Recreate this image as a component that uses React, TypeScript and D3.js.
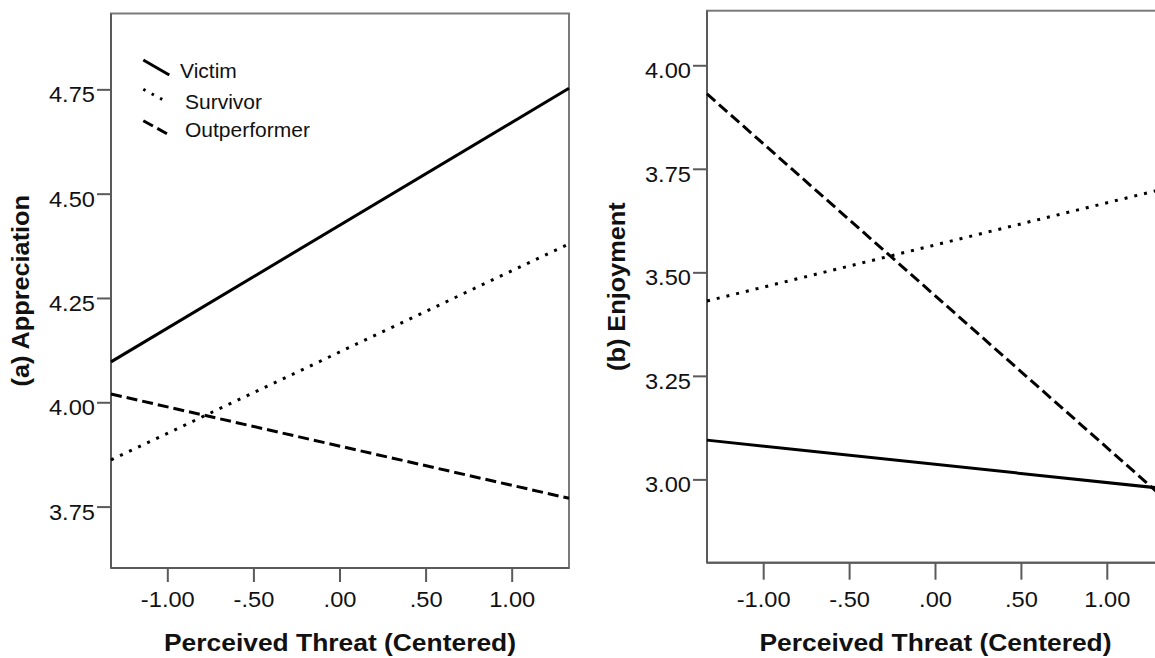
import React from "react";
import * as d3 from "d3";

// ---- data ----
const xDomain: [number, number] = [-1.33, 1.33];
const xTicks = [-1, -0.5, 0, 0.5, 1];
const seriesNames = ["Victim", "Survivor", "Outperformer"];

// values at the two ends of the x range (-1.33, 1.33)
const appreciationVictim = [4.098, 4.754];
const appreciationSurvivor = [3.863, 4.381];
const appreciationOutperformer = [4.021, 3.771];

const enjoymentVictim = [3.096, 2.979];
const enjoymentSurvivor = [3.432, 3.703];
const enjoymentOutperformer = [3.932, 2.956];

const appreciationTicks = [3.75, 4.0, 4.25, 4.5, 4.75];
const enjoymentTicks = [3.0, 3.25, 3.5, 3.75, 4.0];

const xTitle = "Perceived Threat (Centered)";

const FONT = "'Liberation Sans', Arial, Helvetica, sans-serif";
const SX = 1.1;

const fmtTick = (v: number) => {
  const s = d3.format(".2f")(v).replace("\u2212", "-");
  return s.replace(/^(-?)0\./, "$1.");
};

const dashStyles = ["none", "3,7", "11,5"];
const widths = [3, 3, 3];

function T({ x, y, rot = 0, sx = SX, anchor = "middle", size, weight = "normal", children }: any) {
  return (
    <text
      transform={`translate(${x},${y}) rotate(${rot}) scale(${sx},1)`}
      textAnchor={anchor}
      fontFamily={FONT}
      fontSize={size}
      fontWeight={weight}
      fill="#111"
    >
      {children}
    </text>
  );
}

function Panel({ cfg }: any) {
  const x = d3.scaleLinear().domain(xDomain).range([cfg.x0, cfg.x1]);
  const y = d3.scaleLinear().domain(cfg.yDomain).range([cfg.y1, cfg.y0]);
  const line = d3
    .line<number>()
    .x((_, i) => x(xDomain[i]))
    .y((d) => y(d));
  const axisColor = "#5a5a5a";
  return (
    <g>
      {/* frame */}
      <rect
        x={cfg.x0}
        y={cfg.y0}
        width={cfg.x1 - cfg.x0}
        height={cfg.y1 - cfg.y0}
        fill="white"
        stroke="#7a7a7a"
        strokeWidth={2}
      />
      <line x1={cfg.x0} x2={cfg.x0} y1={cfg.y0} y2={cfg.y1} stroke={axisColor} strokeWidth={2} />
      <line x1={cfg.x0} x2={cfg.x1} y1={cfg.y1} y2={cfg.y1} stroke={axisColor} strokeWidth={2} />
      {/* y ticks */}
      {cfg.yTicks.map((t: number) => (
        <g key={"y" + t}>
          <line x1={cfg.x0 - 14} x2={cfg.x0} y1={y(t)} y2={y(t)} stroke={axisColor} strokeWidth={2} />
          <T x={cfg.x0 - 16} y={y(t) + 12.5} anchor="end" size={21.5}>
            {fmtTick(t)}
          </T>
        </g>
      ))}
      {/* x ticks */}
      {xTicks.map((t) => (
        <g key={"x" + t}>
          <line x1={x(t)} x2={x(t)} y1={cfg.y1} y2={cfg.y1 + cfg.tickLen} stroke={axisColor} strokeWidth={2} />
          <T x={x(t)} y={607} size={21.5}>
            {fmtTick(t)}
          </T>
        </g>
      ))}
      {/* series */}
      {cfg.series.map((s: number[], i: number) => (
        <path
          key={"s" + i}
          d={line(s) || ""}
          fill="none"
          stroke="#000"
          strokeWidth={widths[i]}
          strokeDasharray={dashStyles[i]}
        />
      ))}
      {/* titles */}
      <T x={(cfg.x0 + cfg.x1) / 2} y={651} size={24} weight="bold">
        {xTitle}
      </T>
      <T x={cfg.titleX} y={(cfg.y0 + cfg.y1) / 2} rot={-90} size={23} weight="bold">
        {cfg.yTitle}
      </T>
    </g>
  );
}

function Legend() {
  const rows = [
    { y1: 60, y2: 75, tx: 180, ty: 78, x2: 169.3 },
    { y1: 89.3, y2: 100, tx: 185, ty: 109, x2: 163.3 },
    { y1: 120.7, y2: 135, tx: 185, ty: 137, x2: 169.3 },
  ];
  return (
    <g>
      {seriesNames.map((n, i) => (
        <g key={n}>
          <line
            x1={143.3}
            y1={rows[i].y1}
            x2={rows[i].x2}
            y2={rows[i].y2}
            stroke="#000"
            strokeWidth={3}
            strokeDasharray={i === 1 ? "2.5,7" : i === 2 ? "11,5" : "none"}
          />
          <T x={rows[i].tx} y={rows[i].ty} anchor="start" sx={1} size={21}>
            {n}
          </T>
        </g>
      ))}
    </g>
  );
}

export default function App() {
  const left = {
    x0: 111,
    x1: 569,
    y0: 13.5,
    y1: 568,
    yDomain: [3.604, 4.933],
    yTicks: appreciationTicks,
    tickLen: 14,
    series: [appreciationVictim, appreciationSurvivor, appreciationOutperformer],
    yTitle: "(a) Appreciation",
    titleX: 28.5,
  };
  const right = {
    x0: 707,
    x1: 1164,
    y0: 10.7,
    y1: 562.7,
    yDomain: [2.8, 4.133],
    yTicks: enjoymentTicks,
    tickLen: 17,
    series: [enjoymentVictim, enjoymentSurvivor, enjoymentOutperformer],
    yTitle: "(b) Enjoyment",
    titleX: 625,
  };
  return (
    <div style={{ position: "fixed", left: 0, top: 0, width: 1155, height: 658, overflow: "hidden", background: "white" }}>
      <svg width={1155} height={658} style={{ display: "block" }}>
        <rect width={1155} height={658} fill="white" />
        <Panel cfg={left} />
        <Panel cfg={right} />
        <Legend />
      </svg>
    </div>
  );
}
